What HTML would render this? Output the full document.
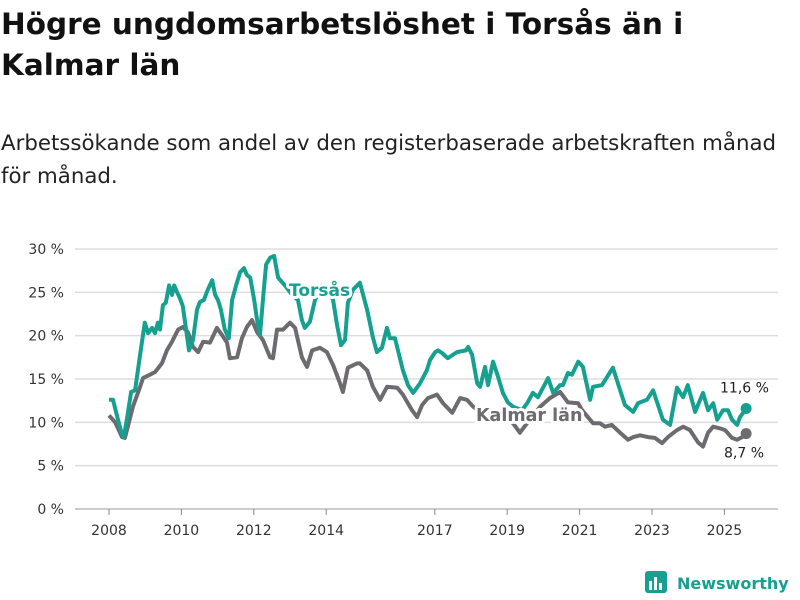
<!DOCTYPE html>
<html><head><meta charset="utf-8">
<style>
body{margin:0;background:#fff;font-family:"DejaVu Sans","Liberation Sans",sans-serif;}
#wrap{position:relative;width:800px;height:600px;overflow:hidden;}
h1{position:absolute;left:1px;top:4px;margin:0;font-size:29.5px;line-height:41px;font-weight:bold;color:#111;width:799px;white-space:nowrap;}
p.sub{position:absolute;left:1px;top:127px;margin:0;font-size:21.3px;line-height:33px;color:#222;width:799px;white-space:nowrap;}
</style></head>
<body>
<div id="wrap">
<h1>Högre ungdomsarbetslöshet i Torsås än i<br>Kalmar län</h1>
<p class="sub">Arbetssökande som andel av den registerbaserade arbetskraften månad<br>för månad.</p>
<svg id="chart" width="800" height="600" style="position:absolute;left:0;top:0"></svg>
</div>
<script>
const yTicks=[0,5,10,15,20,25,30];
const xTicks=[2008,2010,2012,2014,2017,2019,2021,2023,2025];
const torsasYears=[2008.00,2008.11,2008.25,2008.36,2008.41,2008.50,2008.61,2008.72,2008.86,2008.99,2009.08,2009.19,2009.27,2009.35,2009.41,2009.49,2009.57,2009.66,2009.74,2009.80,2009.88,2009.96,2010.04,2010.13,2010.21,2010.32,2010.43,2010.51,2010.62,2010.73,2010.85,2010.93,2011.01,2011.09,2011.20,2011.31,2011.40,2011.51,2011.62,2011.73,2011.81,2011.90,2012.01,2012.09,2012.17,2012.25,2012.34,2012.45,2012.56,2012.67,2012.86,2013.06,2013.22,2013.33,2013.41,2013.55,2013.69,2013.88,2014.05,2014.19,2014.30,2014.41,2014.52,2014.60,2014.74,2014.93,2015.13,2015.29,2015.40,2015.54,2015.68,2015.76,2015.90,2016.12,2016.26,2016.40,2016.59,2016.78,2016.87,2017.01,2017.09,2017.20,2017.36,2017.61,2017.86,2017.92,2018.03,2018.17,2018.25,2018.39,2018.47,2018.61,2018.75,2018.88,2019.02,2019.16,2019.41,2019.55,2019.71,2019.85,2020.13,2020.27,2020.46,2020.54,2020.68,2020.79,2020.96,2021.09,2021.29,2021.37,2021.62,2021.92,2022.25,2022.48,2022.61,2022.86,2023.03,2023.30,2023.50,2023.69,2023.86,2023.99,2024.19,2024.41,2024.55,2024.69,2024.80,2024.96,2025.10,2025.21,2025.35,2025.43,2025.60];
const torsasValues=[12.6,12.6,10.3,8.6,8.3,10.5,13.5,13.7,17.8,21.5,20.3,20.9,20.3,21.5,20.7,23.5,23.8,25.8,24.7,25.8,25.0,24.3,23.4,20.7,18.3,19.5,23.0,23.9,24.1,25.3,26.4,24.7,24.1,23.0,20.7,19.7,24.1,25.8,27.3,27.8,27.0,26.7,24.1,21.8,20.1,24.1,28.2,29.0,29.2,26.7,25.8,24.7,24.1,21.8,20.9,21.6,24.1,25.8,25.3,24.1,21.2,18.9,19.5,23.8,25.3,26.1,23.0,19.8,18.1,18.6,20.9,19.7,19.7,16.0,14.3,13.4,14.5,16.0,17.2,18.1,18.3,18.0,17.4,18.1,18.3,18.7,17.8,14.5,14.1,16.4,14.3,17.0,15.2,13.4,12.3,11.8,11.4,12.2,13.4,12.9,15.1,13.4,14.3,14.3,15.7,15.5,17.0,16.4,12.6,14.1,14.3,16.3,12.0,11.2,12.2,12.6,13.7,10.3,9.7,14.0,12.9,14.3,11.2,13.4,11.4,12.2,10.3,11.4,11.4,10.3,9.7,10.6,11.6];
const kalmarYears=[2008.00,2008.17,2008.36,2008.44,2008.52,2008.66,2008.86,2008.94,2009.13,2009.27,2009.46,2009.60,2009.74,2009.91,2010.04,2010.18,2010.32,2010.46,2010.60,2010.79,2010.98,2011.12,2011.26,2011.34,2011.54,2011.67,2011.81,2011.95,2012.09,2012.25,2012.45,2012.53,2012.64,2012.81,2013.00,2013.14,2013.33,2013.47,2013.61,2013.83,2014.02,2014.19,2014.38,2014.46,2014.60,2014.85,2014.93,2015.13,2015.29,2015.49,2015.68,2015.96,2016.12,2016.37,2016.51,2016.65,2016.81,2017.06,2017.23,2017.48,2017.70,2017.89,2018.06,2018.25,2018.52,2018.80,2018.99,2019.16,2019.35,2019.55,2019.91,2020.18,2020.46,2020.68,2020.96,2021.07,2021.37,2021.56,2021.70,2021.89,2022.12,2022.34,2022.48,2022.67,2022.89,2023.08,2023.28,2023.44,2023.69,2023.86,2024.05,2024.27,2024.41,2024.55,2024.69,2024.88,2025.02,2025.21,2025.35,2025.49,2025.60];
const kalmarValues=[10.8,10.0,8.3,8.2,9.5,11.8,14.1,15.1,15.5,15.8,16.8,18.3,19.3,20.7,21.0,20.4,18.7,18.1,19.3,19.2,20.9,20.1,19.2,17.4,17.5,19.7,21.0,21.8,20.4,19.5,17.5,17.4,20.7,20.7,21.5,20.9,17.5,16.4,18.3,18.6,18.1,16.6,14.5,13.5,16.3,16.8,16.8,16.0,14.1,12.6,14.1,14.0,13.2,11.4,10.6,12.0,12.8,13.2,12.2,11.1,12.8,12.6,11.8,11.2,10.5,11.2,10.5,9.9,8.8,9.9,11.8,12.8,13.5,12.3,12.2,11.4,9.9,9.9,9.5,9.7,8.8,8.0,8.3,8.5,8.3,8.2,7.6,8.3,9.1,9.5,9.1,7.7,7.2,8.8,9.5,9.3,9.1,8.2,8.0,8.3,8.7];
const endLabels=["11,6 %","8,7 %"];

const NS="http://www.w3.org/2000/svg";
const svg=document.getElementById('chart');
const FONT='DejaVu Sans, Liberation Sans, sans-serif';
const X=y=>109+(y-2008)*36.2;
const Y=v=>509-v*8.667;
function mk(tag,attrs,parent){const e=document.createElementNS(NS,tag);for(const k in attrs)e.setAttribute(k,attrs[k]);(parent||svg).appendChild(e);return e;}

yTicks.forEach(t=>{
  const g=mk('line',{x1:75,x2:778,y1:Y(t),y2:Y(t),stroke:t===0?'#bbb':'#ddd','stroke-width':1.5});
  
  
  const l=mk('text',{x:64,y:Y(t)+5,'text-anchor':'end','font-size':14,fill:'#333','font-family':FONT});
  l.textContent=t+' %';
  
  
});
xTicks.forEach(t=>{
  const tk=mk('line',{x1:X(t),x2:X(t),y1:509,y2:515,stroke:'#888','stroke-width':1});
  
  
  const l=mk('text',{x:X(t),y:535,'text-anchor':'middle','font-size':14,fill:'#333','font-family':FONT});
  l.textContent=t;
  
  
});
function path(years,vals){return years.map((y,i)=>(i?'L':'M')+X(y).toFixed(1)+','+Y(vals[i]).toFixed(1)).join('');}
const kl=mk('path',{d:path(kalmarYears,kalmarValues),fill:'none',stroke:'#6d6a70','stroke-width':4,'stroke-linejoin':'round'});


const tl=mk('path',{d:path(torsasYears,torsasValues),fill:'none',stroke:'#16a090','stroke-width':4,'stroke-linejoin':'round'});



function lab(txt,x,y,col,name,size,bold){
  const t=mk('text',{x:x,y:y,fill:col,'font-size':size,'font-weight':bold?'bold':'normal',stroke:'#fff','stroke-width':bold?6:4,'paint-order':'stroke','stroke-linejoin':'round','font-family':FONT});
  t.textContent=txt;
  
  
}
lab('Torsås',289,296,'#16a090','torsas-series-label',17,true);
lab('Kalmar län',476,421,'#6d6a70','kalmar-series-label',17.5,true);

const tLast=torsasValues.length-1, kLast=kalmarValues.length-1;
const td=mk('circle',{cx:X(torsasYears[tLast]),cy:Y(torsasValues[tLast]),r:5.5,fill:'#16a090'});


const kd=mk('circle',{cx:X(kalmarYears[kLast]),cy:Y(kalmarValues[kLast]),r:5.5,fill:'#6d6a70'});


lab(endLabels[0],720,Y(torsasValues[tLast])-16,'#222','torsas-end-value',14,false);
lab(endLabels[1],724,Y(kalmarValues[kLast])+24,'#222','kalmar-end-value',14,false);

const lg=mk('g',{});


mk('rect',{x:645,y:571,width:22,height:22,rx:3,fill:'#16a090'},lg);
mk('rect',{x:649,y:581,width:3,height:9,fill:'#fff'},lg);
mk('rect',{x:654,y:577,width:3,height:13,fill:'#fff'},lg);
mk('rect',{x:659,y:583,width:3,height:7,fill:'#fff'},lg);
const lt=mk('text',{x:677,y:589,'font-size':16,'font-weight':'bold',fill:'#16a090','font-family':FONT},lg);
lt.textContent='Newsworthy';
</script>
</body></html>
